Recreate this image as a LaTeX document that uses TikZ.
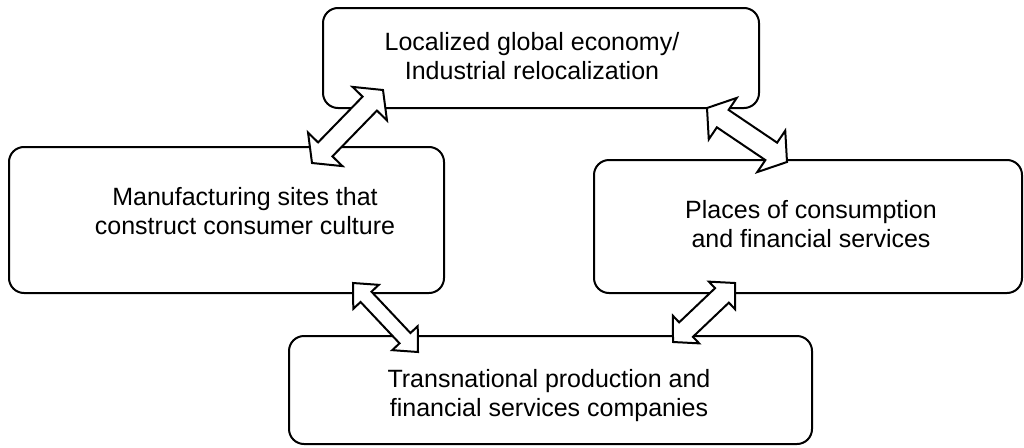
\documentclass[tikz,border=0pt]{standalone}
\usepackage{fontspec}
\setmainfont{Liberation Sans}
\usetikzlibrary{calc}
\tikzset{
  box/.style={draw=black, line width=2pt, rounded corners=15pt, fill=white, inner sep=0pt},
  txt/.style={align=center, inner sep=0pt, font=\fontsize{25}{29}\selectfont},
  arrowst/.style={draw=black, fill=white, line width=2pt, line join=miter}
}
\newcommand\blockarr[5]{%
  \path ($(#1)!#5!(#2)$) coordinate (ba) ($(#2)!#5!(#1)$) coordinate (bb);
  \draw[arrowst] (#1) -- ($(ba)!#4!90:(#2)$) -- ($(ba)!#3!90:(#2)$)
    -- ($(bb)!#3!-90:(#1)$) -- ($(bb)!#4!-90:(#1)$) -- (#2)
    -- ($(bb)!#4!90:(#1)$) -- ($(bb)!#3!90:(#1)$)
    -- ($(ba)!#3!-90:(#2)$) -- ($(ba)!#4!-90:(#2)$) -- cycle;
}
\begin{document}
\begin{tikzpicture}[x=1pt,y=-1pt]
\useasboundingbox[fill=white] (0,0) rectangle (1024,447);
% boxes
\node[box, minimum width=436pt, minimum height=100pt] (top) at (541,58) {};
\node[box, minimum width=435pt, minimum height=146pt] (left) at (226.5,220) {};
\node[box, minimum width=428pt, minimum height=133pt] (right) at (808,226.5) {};
\node[box, minimum width=523pt, minimum height=108pt] (bottom) at (550.5,390) {};
% texts
\node[txt] (ttop) at (532,56) {Localized global economy/\\Industrial relocalization};
\node[txt] (tleft) at (245,211) {Manufacturing sites that\\construct consumer culture};
\node[txt] (tright) at (811,224) {Places of consumption\\and financial services};
\node[txt] (tbottom) at (549,396) {Transnational production and\\financial services companies};
% arrow end points
\coordinate (a1l) at (312,163);
\coordinate (a1t) at (383,90);
\coordinate (a2t) at (707,108);
\coordinate (a2r) at (787,162);
\coordinate (a3l) at (353,283);
\coordinate (a3b) at (418,352);
\coordinate (a4b) at (673,342);
\coordinate (a4r) at (735,283);
% block double arrows
\blockarr{a1l}{a1t}{10pt}{24pt}{19pt}
\blockarr{a2t}{a2r}{10.5pt}{25pt}{19pt}
\blockarr{a3l}{a3b}{7.5pt}{17.5pt}{19pt}
\blockarr{a4b}{a4r}{10pt}{19pt}{18pt}
\end{tikzpicture}
\end{document}
